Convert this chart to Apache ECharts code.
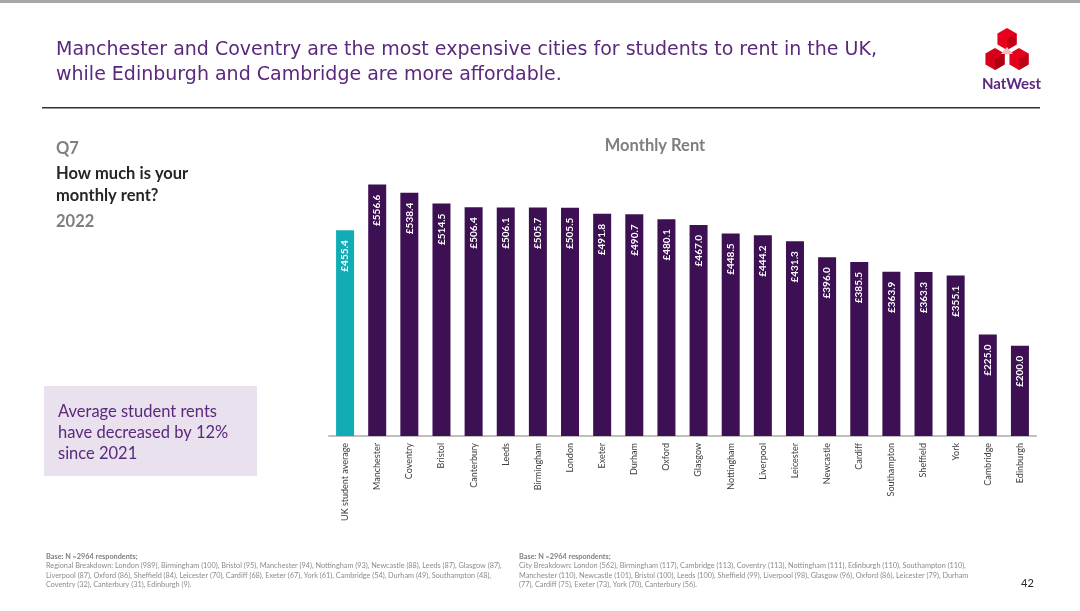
<!DOCTYPE html>
<html><head><meta charset="utf-8">
<script src="https://cdn.jsdelivr.net/npm/echarts@6/dist/echarts.min.js"></script>
<style>html,body{margin:0;padding:0;background:#fff;}#c{width:1080px;height:611px;}</style>
</head><body><div id="c"></div>
<script>
const categories = ['UK student average','Manchester','Coventry','Bristol','Canterbury','Leeds','Birmingham','London','Exeter','Durham','Oxford','Glasgow','Nottingham','Liverpool','Leicester','Newcastle','Cardiff','Southampton','Sheffield','York','Cambridge','Edinburgh'];
const rents = [455.4,556.6,538.4,514.5,506.4,506.1,505.7,505.5,491.8,490.7,480.1,467.0,448.5,444.2,431.3,396.0,385.5,363.9,363.3,355.1,225.0,200.0];
const titleLines = ['Manchester and Coventry are the most expensive cities for students to rent in the UK,','while Edinburgh and Cambridge are more affordable.'];
const noteLeft = ['Regional Breakdown: London (989), Birmingham (100), Bristol (95), Manchester (94), Nottingham (93), Newcastle (88), Leeds (87), Glasgow (87),','Liverpool (87), Oxford (86), Sheffield (84), Leicester (70), Cardiff (68), Exeter (67), York (61), Cambridge (54), Durham (49), Southampton (48),','Coventry (32), Canterbury (31), Edinburgh (9).'];
const noteRight = ['City Breakdown: London (562), Birmingham (117), Cambridge (113), Coventry (113), Nottingham (111), Edinburgh (110), Southampton (110),','Manchester (110), Newcastle (101), Bristol (100), Leeds (100), Sheffield (99), Liverpool (98), Glasgow (96), Oxford (86), Leicester (79), Durham','(77), Cardiff (75), Exeter (73), York (70), Canterbury (56).'];

const PURPLE = '#3c1053', TEAL = '#12acb7', TXT = '#5a287d';
const chart = echarts.init(document.getElementById('c'));
const FF = 'Lato, "Open Sans", sans-serif';

const g = [];
g.push({type:'rect', shape:{x:0,y:0,width:1080,height:3}, style:{fill:'#a6a6a6'}});
g.push({type:'rect', shape:{x:42,y:107,width:998,height:1.5}, style:{fill:'#333'}});
titleLines.forEach((t,i)=>g.push({type:'text', left:56, top:41+i*25, style:{text:t, fill:TXT, font:'19px "DejaVu Sans", Verdana, sans-serif'}}));
g.push({type:'text', left:56, top:140, style:{text:'Q7', fill:'#7f7f7f', font:'bold 16.5px '+FF}});
g.push({type:'text', left:56, top:165, style:{text:'How much is your', fill:'#262626', font:'bold 16.5px '+FF}});
g.push({type:'text', left:56, top:187, style:{text:'monthly rent?', fill:'#262626', font:'bold 16.5px '+FF}});
g.push({type:'text', left:56, top:213, style:{text:'2022', fill:'#7f7f7f', font:'bold 16.5px '+FF}});
g.push({type:'rect', shape:{x:44,y:386,width:213,height:90}, style:{fill:'#e9e1ed'}});
['Average student rents','have decreased by 12%','since 2021'].forEach((t,i)=>g.push({type:'text', left:58, top:403+i*21, style:{text:t, fill:TXT, font:'16.5px '+FF}}));
// footnotes
[[46,noteLeft],[519,noteRight]].forEach(([x,arr])=>{
  g.push({type:'text', left:x, top:553.5, style:{text:'Base: N =2964 respondents;', fill:'#7f7f7f', font:'bold 7.3px '+FF}});
  arr.forEach((t,i)=>g.push({type:'text', left:x, top:562.5+i*9.5, style:{text:t, fill:'#8c8c8c', font:'7.3px '+FF}}));
});
g.push({type:'text', left:1021, top:578, style:{text:'42', fill:'#262626', font:'11px '+FF}});
// logo (approximate NatWest cubes)
function cube(cx,cy,s,c1,c2){
  const h=s*0.87;
  return [
    {type:'polygon', shape:{points:[[cx,cy-s],[cx+h,cy-s/2],[cx+h,cy+s/2],[cx,cy+s],[cx-h,cy+s/2],[cx-h,cy-s/2]]}, style:{fill:c1}},
    {type:'polygon', shape:{points:[[cx,cy],[cx+h,cy-s/2],[cx+h,cy+s/2],[cx,cy+s]]}, style:{fill:c2}}
  ];
}
g.push(...cube(1007,39,11,'#e8001c','#c40016'));
g.push(...cube(995,59,11,'#d6001a','#b00014'));
g.push(...cube(1019,59,11,'#e2001c','#c00017'));
g.push({type:'polygon', shape:{points:[[1007,47],[1001,54],[1013,54]]}, style:{fill:'#f4b9be'}});
g.push({type:'text', left:982, top:77, style:{text:'NatWest', fill:TXT, font:'bold 15px '+FF}});
g.push({type:'text', x:655, y:137, style:{text:'Monthly Rent', fill:'#7f7f7f', font:'bold 16.5px '+FF, textAlign:'center'}});

chart.setOption({
  animation:false,
  grid:{left:329, right:44, top:165, bottom:175, containLabel:false},
  xAxis:{type:'category', data:categories,
    axisLine:{lineStyle:{color:'#bfbfbf', width:2}}, axisTick:{show:false},
    axisLabel:{rotate:90, interval:0, color:'#404040', fontSize:9, fontFamily:FF, margin:7}},
  yAxis:{type:'value', min:0, max:600, show:false, splitLine:{show:false}},
  series:[{type:'bar', barWidth:18,
    data:rents.map((v,i)=>({value:v, itemStyle:{color:i===0?TEAL:PURPLE}})),
    label:{show:true, position:'insideTop', rotate:90, align:'right', verticalAlign:'middle', distance:10,
      color:'#fff', fontSize:10, fontWeight:'bold', fontFamily:FF, formatter:p=>'£'+p.value.toFixed(1)}}],
  graphic:g
});
</script></body></html>
